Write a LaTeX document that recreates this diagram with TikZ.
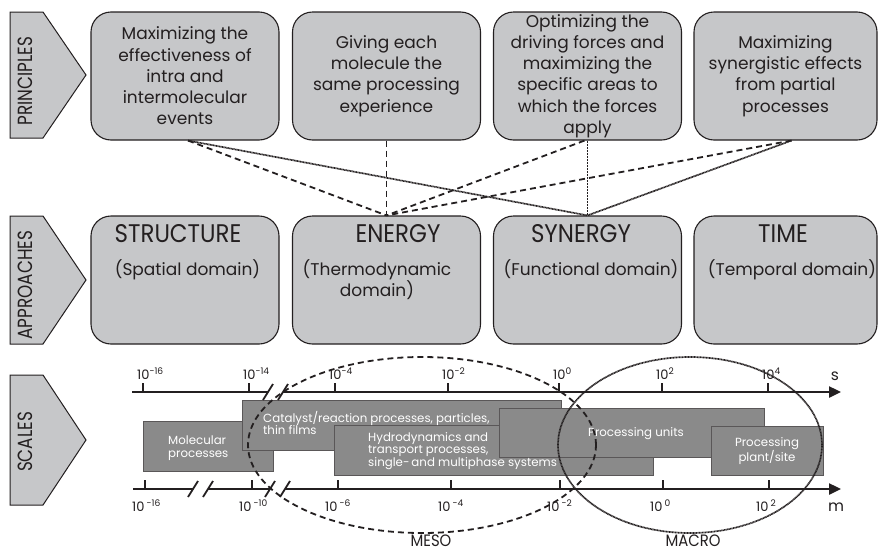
\documentclass[tikz,border=0pt]{standalone}
\usepackage{fontspec}
\setmainfont{Poppins}
\newfontfamily\condfont[FakeStretch=0.82]{Poppins}
\newfontfamily\titlefont[FakeStretch=0.9]{Poppins}
\usetikzlibrary{arrows.meta,shapes.geometric}
\definecolor{boxgray}{HTML}{C6C7C9}
\definecolor{darkbox}{HTML}{8A8A8A}
\definecolor{ink}{HTML}{231F20}
\begin{document}
\begin{tikzpicture}[x=1pt,y=-1pt,
  pbox/.style={draw=ink, line width=1.1pt, fill=boxgray, rounded corners=20pt,
    minimum width=188pt, minimum height=128pt, inner sep=0pt, align=center,
    text=ink, font=\fontsize{17}{21.3}\selectfont},
  chev/.style={draw=ink, line width=1pt, fill=boxgray},
  chevtext/.style={rotate=90, text=ink, font=\condfont\fontsize{20.5}{20}\selectfont, inner sep=0pt},
  atitle/.style={anchor=base, text=ink, font=\titlefont\fontsize{25.5}{26}\selectfont, inner sep=0pt},
  asub/.style={anchor=base, text=ink, align=center, font=\fontsize{17}{21}\selectfont, inner sep=0pt},
  dashc/.style={draw=ink, line width=1.8pt, dash pattern=on 6pt off 4pt},
  dotc/.style={draw=ink, line width=1.7pt, dash pattern=on 1pt off 0.5pt},
  axis/.style={draw=ink, line width=2.4pt},
  tick/.style={draw=ink, line width=2.2pt},
  brk/.style={draw=ink, line width=1.8pt},
  ticklab/.style={anchor=base west, text=ink, inner sep=0pt, font=\fontsize{13}{13}\selectfont},
  sbox/.style={draw=ink!75, line width=0.8pt, fill=darkbox, inner sep=0pt, anchor=north west},
  stext/.style={text=white, inner sep=0pt, font=\fontsize{11.8}{12.5}\selectfont},
  scalelab/.style={text=ink, inner sep=0pt, font=\fontsize{15.5}{15}\selectfont},
  zonelab/.style={anchor=base, text=ink, inner sep=0pt, font=\titlefont\fontsize{16.5}{17}\selectfont}
]
\useasboundingbox (0,0) rectangle (878,552);

% ---------- chevrons ----------
\draw[chev] (10,12) -- (43,12) -- (86,75) -- (43,138) -- (10,138) -- cycle;
\node[chevtext] (chp) at (25,81) {PRINCIPLES};
\draw[chev] (10,216) -- (43,216) -- (86,280) -- (43,344) -- (10,344) -- cycle;
\node[chevtext] (cha) at (25,285) {APPROACHES};
\draw[chev] (10,375) -- (43,375) -- (86,440) -- (43,505) -- (10,505) -- cycle;
\node[chevtext] (chs) at (25,442) {SCALES};

% ---------- principles ----------
\node[pbox] (p1) at (185,76) {Maximizing the\\effectiveness of\\intra and\\intermolecular\\events};
\node[pbox] (p2) at (386.5,76) {Giving each\\molecule the\\same processing\\experience};
\node[pbox] (p3) at (587.5,76) {Optimizing the\\driving forces and\\maximizing the\\specific areas to\\which the forces\\apply};
\node[pbox, minimum width=183pt] (p4) at (785.5,76) {Maximizing\\synergistic effects\\from partial\\processes};

% ---------- approaches ----------
\node[pbox] (a1) at (185,280) {};
\node[pbox] (a2) at (386.5,280) {};
\node[pbox] (a3) at (587.5,280) {};
\node[pbox, minimum width=183pt] (a4) at (785.5,280) {};
\node[atitle] (a1t) at (178,242) {STRUCTURE};
\node[atitle] (a2t) at (398,242) {ENERGY};
\node[atitle] (a3t) at (581,242) {SYNERGY};
\node[atitle] (a4t) at (783,242) {TIME};
\node[asub] (a1s) at (187.5,275) {(Spatial domain)};
\node[asub] (a2s) at (377,296) {(Thermodynamic\\domain)};
\node[asub] (a3s) at (591,275) {(Functional domain)};
\node[asub] (a4s) at (792,275) {(Temporal domain)};

% ---------- connectors ----------
\draw[dotc] ([xshift=3pt]p1.south) -- (a3.north);
\draw[dotc] (p3.south) -- (a3.north);
\draw[dotc] ([xshift=6pt]p4.south) -- (a3.north);
\draw[dashc] ([xshift=3pt]p1.south) -- (a2.north);
\draw[dashc] (p2.south) -- (a2.north);
\draw[dashc] ([xshift=-3pt]p3.south) -- (a2.north);
\draw[dashc] ([xshift=6pt]p4.south) -- (a2.north);

% ---------- scale boxes ----------
\node[sbox, minimum width=130pt, minimum height=50pt] (mol) at (143,421) {};
\node[sbox, minimum width=319pt, minimum height=50pt] (cat) at (242,400) {};
\node[sbox, minimum width=319pt, minimum height=50pt] (hyd) at (334,425) {};
\node[sbox, minimum width=265pt, minimum height=49pt] (uni) at (499,408) {};
\node[sbox, minimum width=112pt, minimum height=49pt] (plant) at (711,426) {};
\node[stext, anchor=west, align=left] (molt) at (168,448) {Molecular\\processes};
\node[stext, anchor=west, align=left] (catt) at (263,423) {Catalyst/reaction processes, particles,\\thin films};
\node[stext, anchor=west, align=left] (hydt) at (368,451) {Hydrodynamics and\\transport processes,\\single-\,and multiphase systems};
\node[stext] (unit) at (636,434) {Processing units};
\node[stext, align=center] (plantt) at (767,451) {Processing\\plant/site};

% ---------- axes ----------
\coordinate (ts) at (132,392);
\coordinate (tb1) at (268,392);
\coordinate (tb2) at (283,392);
\coordinate (te) at (841,392);
\draw[axis] (ts) -- (tb1);
\draw[axis, -{Triangle[length=12pt,width=11pt]}] (tb2) -- (te);
\node[scalelab, anchor=base] (slab) at (835,380) {s};

\coordinate (bs) at (133,489);
\coordinate (bb1) at (193,489);
\coordinate (bb2) at (208,489);
\coordinate (bb3) at (270,489);
\coordinate (bb4) at (285,489);
\coordinate (be) at (841,489);
\draw[axis] (bs) -- (bb1);
\draw[axis] (bb2) -- (bb3);
\draw[axis, -{Triangle[length=12pt,width=11pt]}] (bb4) -- (be);
\node[scalelab, anchor=base] (mlab) at (836,511) {m};

\foreach \c in {tb1,tb2,bb1,bb2,bb3,bb4}
  \draw[brk] ([shift={(-5,8)}]\c) -- ([shift={(5,-8)}]\c);

\foreach \x/\e [count=\i] in {143/-16,249/-14,335/-4,448/-2,559/0,662/2,768/4}{
  \draw[tick] (\x,392) -- (\x,383);
  \node[ticklab] (tl\i) at (\x-6,379) {10\textsuperscript{\e}};
}
\foreach \x/\e [count=\i] in {145/-16,252/-10,338/-6,451/-4,560/-2,663/0,769/2}{
  \draw[tick] (\x,489) -- (\x,480);
  \node[ticklab] (bl\i) at (\x-13,511) {10\,\textsuperscript{\e}};
}

% ---------- ellipses ----------
\node[ellipse, dashc, minimum width=348pt, minimum height=176pt, inner sep=0pt] (meso) at (422,445) {};
\node[ellipse, dotc, minimum width=264pt, minimum height=176pt, inner sep=0pt] (macro) at (690,445) {};
\node[zonelab] (mesol) at (431,546) {MESO};
\node[zonelab] (macrol) at (693,546) {MACRO};
\end{tikzpicture}
\end{document}
